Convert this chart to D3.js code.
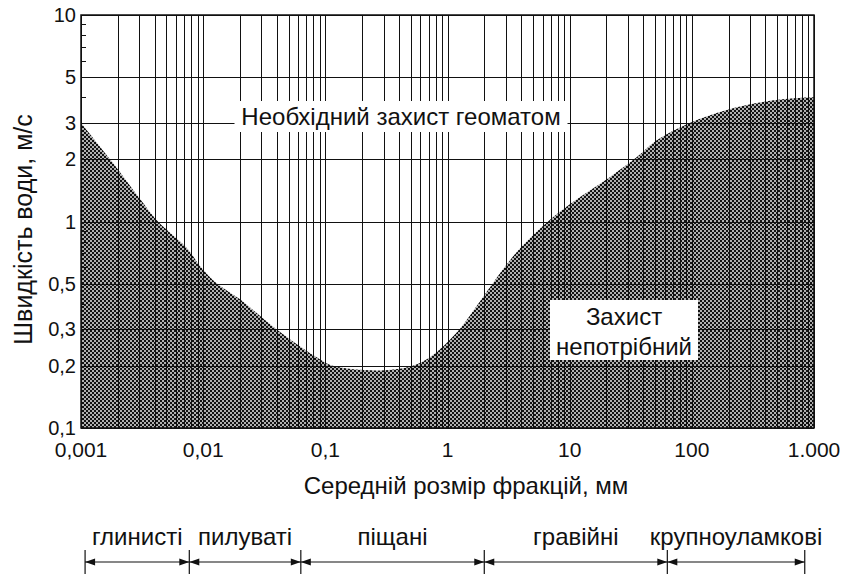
<!DOCTYPE html>
<html>
<head>
<meta charset="utf-8">
<script src="https://cdn.jsdelivr.net/npm/d3@7"></script>
<style>
  body { margin: 0; background: #fff; }
  text { font-family: "Liberation Sans", Arial, sans-serif; fill: #111; }
</style>
</head>
<body>
<svg id="chart"></svg>
<script>
// fraction size, mm and critical water speed, m/s
var sizes  = [0.001, 0.00173, 0.003, 0.00427, 0.0074, 0.0094, 0.0125, 0.02, 0.04, 0.085, 0.115, 0.28, 0.52, 0.76, 1.19, 1.95, 3.06, 3.92, 6.9, 12.1, 21.3, 35.5, 52, 96, 193, 381, 723, 1000]
var speeds = [3.0, 2.0, 1.3, 1.0, 0.74, 0.61, 0.51, 0.42, 0.3, 0.22, 0.2, 0.19, 0.2, 0.226, 0.29, 0.43, 0.62, 0.74, 1.02, 1.31, 1.64, 2.05, 2.48, 3.0, 3.47, 3.79, 3.96, 4.0]

var xTicks = [0.001, 0.01, 0.1, 1, 10, 100, 1000]
var xTickLabels = ["0,001", "0,01", "0,1", "1", "10", "100", "1.000"]
var yTicks = [0.1, 0.2, 0.3, 0.5, 1, 2, 3, 5, 10]
var yTickLabels = ["0,1", "0,2", "0,3", "0,5", "1", "2", "3", "5", "10"]

var fractionNames = ["глинисті", "пилуваті", "піщані", "гравійні", "крупноуламкові"]
var fractionBounds = [0.00108, 0.0077, 0.063, 2, 63, 840]

;(function () {
  var width = 847, height = 574
  var pl = 81, pt = 15, pr = 814, pb = 428

  var svg = d3.select("#chart").attr("width", width).attr("height", height)

  var x = d3.scaleLog().domain([0.001, 1000]).range([pl, pr])
  var y = d3.scaleLog().domain([0.1, 10]).range([pb, pt])

  var defs = svg.append("defs")
  var pat = defs.append("pattern")
    .attr("id", "dots").attr("patternUnits", "userSpaceOnUse")
    .attr("width", 4).attr("height", 4)
  pat.append("rect").attr("width", 4).attr("height", 4).attr("fill", "#b0b0b0")
  pat.append("rect").attr("width", 2).attr("height", 2).attr("fill", "#111")
  pat.append("rect").attr("x", 2).attr("y", 2).attr("width", 2).attr("height", 2).attr("fill", "#111")

  // shaded area under the curve
  var area = d3.area()
    .x((d, i) => x(sizes[i]))
    .y0(pb)
    .y1((d, i) => y(speeds[i]))
    .curve(d3.curveCatmullRom.alpha(0.5))

  svg.append("path")
    .datum(sizes)
    .attr("d", area)
    .attr("fill", "url(#dots)")

  // grid
  var vLines = []
  for (var e = -3; e < 3; e++)
    for (var k = 1; k < 10; k++) vLines.push(k * Math.pow(10, e))
  vLines.push(1000)

  var grid = svg.append("g").attr("stroke", "#111").attr("stroke-width", 1)
  grid.selectAll(".v").data(vLines).enter().append("line")
    .attr("x1", d => Math.round(x(d)) + 0.5).attr("x2", d => Math.round(x(d)) + 0.5)
    .attr("y1", pt).attr("y2", pb)
  grid.selectAll(".h").data(yTicks).enter().append("line")
    .attr("x1", pl).attr("x2", pr)
    .attr("y1", d => Math.round(y(d)) + 0.5).attr("y2", d => Math.round(y(d)) + 0.5)

  // small ticks on the left edge
  var minor = [4, 6, 7, 8, 9, 0.4, 0.6, 0.7, 0.8, 0.9]
  grid.selectAll(".m").data(minor).enter().append("line")
    .attr("x1", pl).attr("x2", pl + 5)
    .attr("y1", d => Math.round(y(d)) + 0.5).attr("y2", d => Math.round(y(d)) + 0.5)

  svg.append("rect")
    .attr("x", pl).attr("y", pt)
    .attr("width", pr - pl).attr("height", pb - pt)
    .attr("fill", "none").attr("stroke", "#111").attr("stroke-width", 1.5)

  // axis labels
  svg.append("g").selectAll("text").data(yTicks).enter().append("text")
    .attr("x", pl - 5).attr("y", d => y(d) + 7)
    .attr("text-anchor", "end").attr("font-size", 20)
    .text((d, i) => yTickLabels[i])

  svg.append("g").selectAll("text").data(xTicks).enter().append("text")
    .attr("x", d => x(d)).attr("y", pb + 29)
    .attr("text-anchor", "middle").attr("font-size", 21)
    .text((d, i) => xTickLabels[i])

  svg.append("text")
    .attr("transform", `translate(32,${(pt + pb) / 2 + 8}) rotate(-90)`)
    .attr("text-anchor", "middle").attr("font-size", 25)
    .text("Швидкість води, м/с")

  svg.append("text")
    .attr("x", 466).attr("y", pb + 66)
    .attr("text-anchor", "middle").attr("font-size", 24)
    .text("Середній розмір фракцій, мм")

  // in-plot labels with white boxes
  function boxLabel(cx, lines, yTop, boxW, boxH, lineH) {
    svg.append("rect")
      .attr("x", cx - boxW / 2).attr("y", yTop)
      .attr("width", boxW).attr("height", boxH)
      .attr("fill", "#fff")
    lines.forEach((t, i) => {
      svg.append("text")
        .attr("x", cx).attr("y", yTop + lineH * (i + 1) - 5)
        .attr("text-anchor", "middle").attr("font-size", 24)
        .text(t)
    })
  }
  boxLabel(401, ["Необхідний захист геоматом"], 101, 333, 31, 29)
  boxLabel(624, ["Захист", "непотрібний"], 300, 148, 60, 30)

  // soil fraction brackets
  var bracketY = 562
  var fr = svg.append("g")
  fr.selectAll(".tick").data(fractionBounds).enter().append("line")
    .attr("x1", d => x(d)).attr("x2", d => x(d))
    .attr("y1", 550).attr("y2", 574)
    .attr("stroke", "#111").attr("stroke-width", 1.2)

  fractionNames.forEach((name, i) => {
    var a = x(fractionBounds[i]), b = x(fractionBounds[i + 1])
    fr.append("line")
      .attr("x1", a).attr("x2", b).attr("y1", bracketY).attr("y2", bracketY)
      .attr("stroke", "#111").attr("stroke-width", 1.2)
    fr.append("path")
      .attr("d", `M${a},${bracketY}l10,-3.5v7z M${b},${bracketY}l-10,-3.5v7z`)
      .attr("fill", "#111")
    fr.append("text")
      .attr("x", (a + b) / 2).attr("y", 545)
      .attr("text-anchor", "middle").attr("font-size", 24)
      .text(name)
  })
})()
</script>
</body>
</html>
